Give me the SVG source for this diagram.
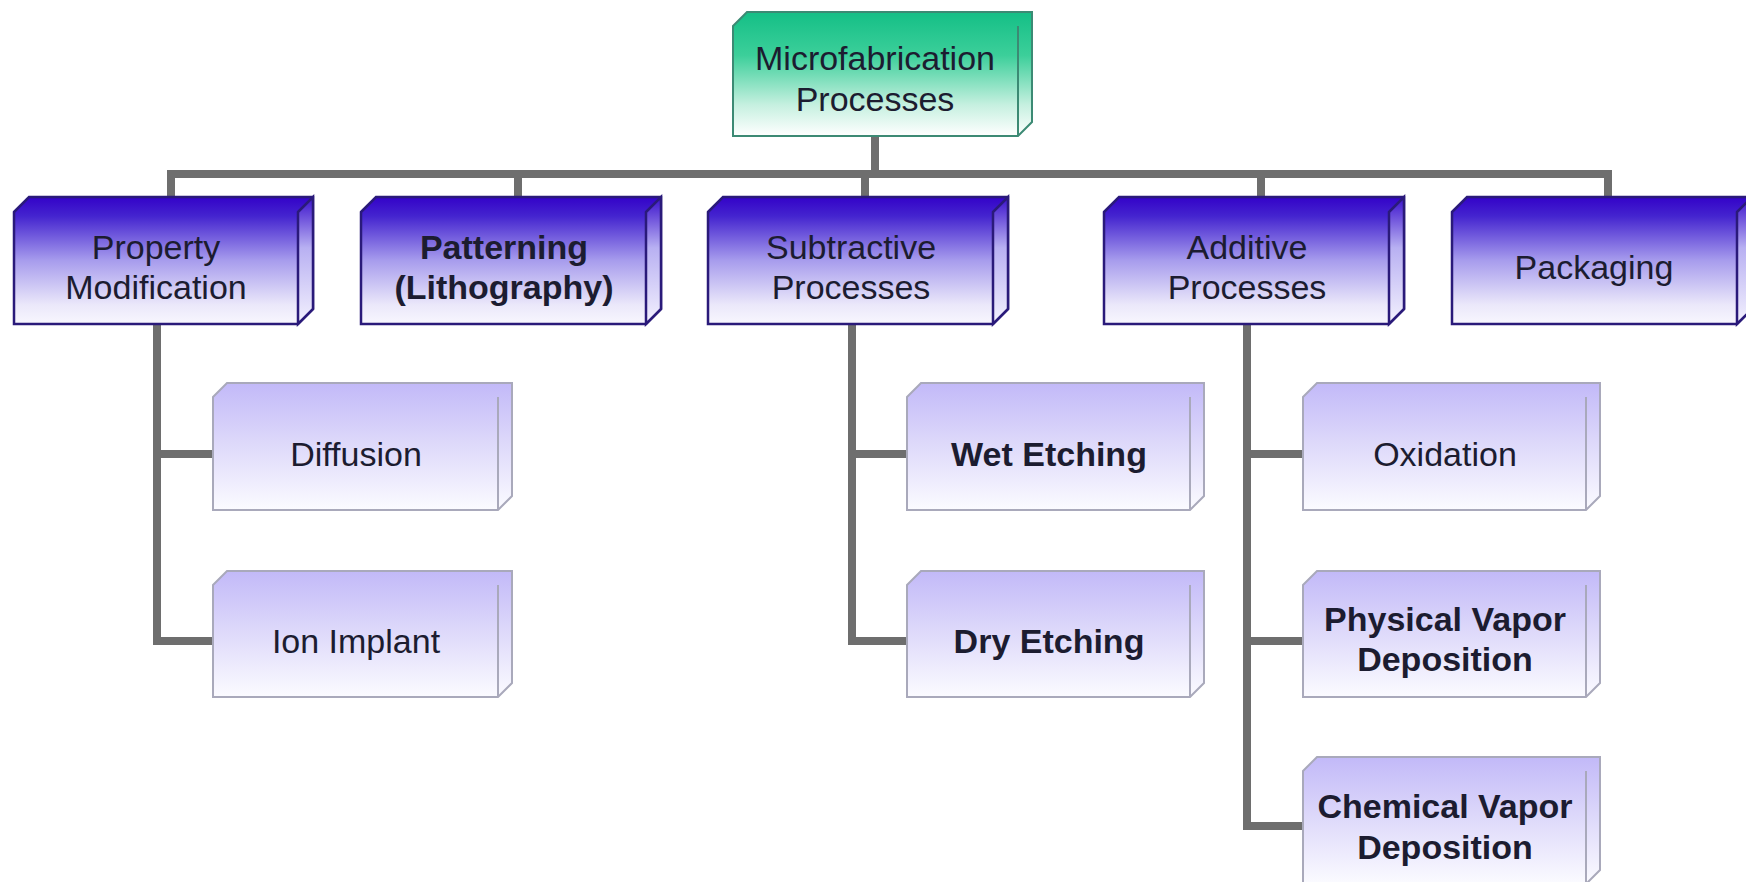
<svg xmlns="http://www.w3.org/2000/svg" width="1746" height="882" viewBox="0 0 1746 882">
<defs>
<linearGradient id="gRoot" x1="0" y1="0" x2="0" y2="1">
<stop offset="0" stop-color="#14bf86"/><stop offset="0.35" stop-color="#3ccf9a"/><stop offset="0.75" stop-color="#c6f0e0"/><stop offset="1" stop-color="#ffffff"/>
</linearGradient>
<linearGradient id="gL1" x1="0" y1="0" x2="0" y2="1">
<stop offset="0" stop-color="#3302c8"/><stop offset="0.15" stop-color="#4424cf"/><stop offset="0.5" stop-color="#a79ced"/><stop offset="0.85" stop-color="#ebe8fa"/><stop offset="1" stop-color="#f8f7fe"/>
</linearGradient>
<linearGradient id="gL2" x1="0" y1="0" x2="0" y2="1">
<stop offset="0" stop-color="#c2b9f8"/><stop offset="0.45" stop-color="#dcd7fa"/><stop offset="1" stop-color="#fbfbff"/>
</linearGradient>
<linearGradient id="gSide1" x1="0" y1="0" x2="0" y2="1">
<stop offset="0" stop-color="#3a10cc"/><stop offset="0.4" stop-color="#b8b0f2"/><stop offset="1" stop-color="#f4f2fe"/>
</linearGradient>
</defs>
<style>
.t{font-family:"Liberation Sans",Arial,sans-serif;font-size:34px;fill:#1c1c30;text-anchor:middle}
.b{font-weight:bold}
.root path{fill:url(#gRoot);stroke:#3c8a74;stroke-width:2}
.l1 path{fill:url(#gL1);stroke:#2a1a7a;stroke-width:2.5}
.l1 path.side{fill:url(#gSide1)}
.l2 path{fill:url(#gL2);stroke:#a9a9bb;stroke-width:2}
path.in{fill:none}
.c{fill:none;stroke:#6e6e6e;stroke-width:8;stroke-linejoin:miter}
</style>
<rect width="1746" height="882" fill="#ffffff"/>
<g id="connectors" class="cg">
<path class="c" d="M875,136 V174"/>
<path class="c" d="M171,197 V174 H1608 V197"/>
<path class="c" d="M518,174 V197"/>
<path class="c" d="M865,174 V197"/>
<path class="c" d="M1261,174 V197"/>
<path class="c" d="M213,454 H157 V324"/>
<path class="c" d="M157,452 V641 H213"/>
<path class="c" d="M907,454 H852 V324"/>
<path class="c" d="M852,452 V641 H907"/>
<path class="c" d="M1303,454 H1247 V324"/>
<path class="c" d="M1247,452 V826 H1303"/>
<path class="c" d="M1247,641 H1303"/>
</g>
<g id="root" class="root">
<path d="M733,26 L747,12 H1032 V122 L1018,136 H733 Z"/>
<path class="in" d="M1018,26 V136"/>
<text class="t" x="875" y="70">Microfabrication</text>
<text class="t" x="875" y="111">Processes</text>
</g>
<g id="property-modification" class="l1">
<path d="M14,212 L29,197 H313 V309 L298,324 H14 Z"/>
<path class="side" d="M298,212 L313,197 V309 L298,324 Z"/>
<text class="t" x="156" y="259">Property</text>
<text class="t" x="156" y="299">Modification</text>
</g>
<g id="patterning" class="l1">
<path d="M361,212 L376,197 H661 V309 L646,324 H361 Z"/>
<path class="side" d="M646,212 L661,197 V309 L646,324 Z"/>
<text class="t b" x="504" y="259">Patterning</text>
<text class="t b" x="504" y="299">(Lithography)</text>
</g>
<g id="subtractive" class="l1">
<path d="M708,212 L723,197 H1008 V309 L993,324 H708 Z"/>
<path class="side" d="M993,212 L1008,197 V309 L993,324 Z"/>
<text class="t" x="851" y="259">Subtractive</text>
<text class="t" x="851" y="299">Processes</text>
</g>
<g id="additive" class="l1">
<path d="M1104,212 L1119,197 H1404 V309 L1389,324 H1104 Z"/>
<path class="side" d="M1389,212 L1404,197 V309 L1389,324 Z"/>
<text class="t" x="1247" y="259">Additive</text>
<text class="t" x="1247" y="299">Processes</text>
</g>
<g id="packaging" class="l1">
<path d="M1452,212 L1467,197 H1752 V309 L1737,324 H1452 Z"/>
<path class="side" d="M1737,212 L1752,197 V309 L1737,324 Z"/>
<text class="t" x="1594" y="279">Packaging</text>
</g>
<g id="diffusion" class="l2">
<path d="M213,397 L227,383 H512 V496 L498,510 H213 Z"/>
<path class="in" d="M498,397 V510"/>
<text class="t" x="356" y="466">Diffusion</text>
</g>
<g id="ion-implant" class="l2">
<path d="M213,585 L227,571 H512 V683 L498,697 H213 Z"/>
<path class="in" d="M498,585 V697"/>
<text class="t" x="356" y="653">Ion Implant</text>
</g>
<g id="wet-etching" class="l2">
<path d="M907,397 L921,383 H1204 V496 L1190,510 H907 Z"/>
<path class="in" d="M1190,397 V510"/>
<text class="t b" x="1049" y="466">Wet Etching</text>
</g>
<g id="dry-etching" class="l2">
<path d="M907,585 L921,571 H1204 V683 L1190,697 H907 Z"/>
<path class="in" d="M1190,585 V697"/>
<text class="t b" x="1049" y="653">Dry Etching</text>
</g>
<g id="oxidation" class="l2">
<path d="M1303,397 L1317,383 H1600 V496 L1586,510 H1303 Z"/>
<path class="in" d="M1586,397 V510"/>
<text class="t" x="1445" y="466">Oxidation</text>
</g>
<g id="pvd" class="l2">
<path d="M1303,585 L1317,571 H1600 V683 L1586,697 H1303 Z"/>
<path class="in" d="M1586,585 V697"/>
<text class="t b" x="1445" y="631">Physical Vapor</text>
<text class="t b" x="1445" y="671">Deposition</text>
</g>
<g id="cvd" class="l2">
<path d="M1303,771 L1317,757 H1600 V870 L1586,884 H1303 Z"/>
<path class="in" d="M1586,771 V884"/>
<text class="t b" x="1445" y="818">Chemical Vapor</text>
<text class="t b" x="1445" y="859">Deposition</text>
</g>
</svg>
